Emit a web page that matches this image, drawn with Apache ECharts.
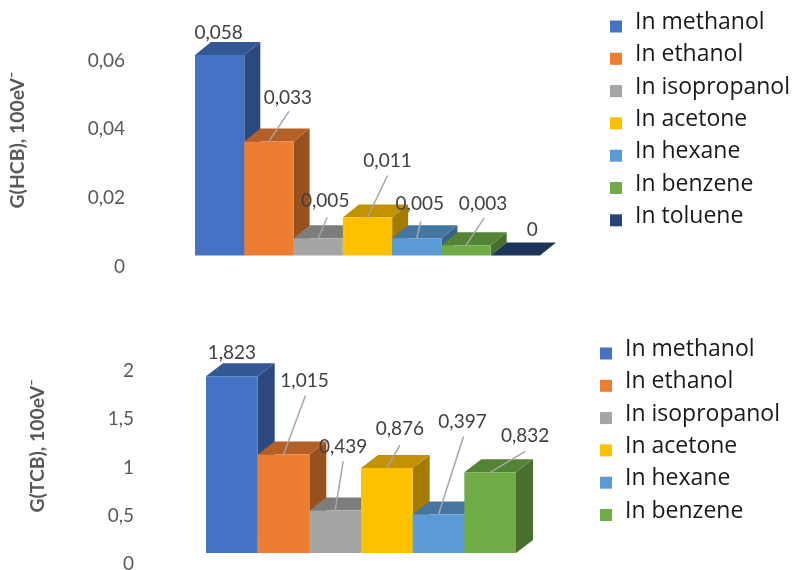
<!DOCTYPE html>
<html>
<head>
<meta charset="utf-8">
<title>G(HCB) and G(TCB) by solvent</title>
<style>html,body{margin:0;padding:0;background:#fff}#chart{width:793px;height:570px}</style>
<script src="https://cdn.jsdelivr.net/npm/echarts@6/dist/echarts.min.js"></script>
</head>
<body>
<div id="chart"></div>
<script>
// Radiation-chemical yields per solvent, decimal comma as printed.
const solvents = ['In methanol', 'In ethanol', 'In isopropanol', 'In acetone', 'In hexane', 'In benzene', 'In toluene'];
const hcbValues = [0.058, 0.033, 0.005, 0.011, 0.005, 0.003, 0];
const tcbValues = [1.823, 1.015, 0.439, 0.876, 0.397, 0.832];
const palette = ['#4472C4', '#ED7D31', '#A5A5A5', '#FFC000', '#5B9BD5', '#70AD47', '#264478'];

// Label and leader-line placement relative to the centre of a bar's front top edge.
const hcbLabelOffsets = [[-1, -22], [19, -44], [7, -37], [20, -57], [3, -34], [17, -41], [17, -26]];
const hcbLeaderEnds = [null, [20, -30], [9, -21], [20, -42], [4, -17], [18, -27], null];
const tcbLabelOffsets = [[0, -23], [21, -74], [8, -64], [13, -39], [24, -93], [35, -36]];
const tcbLeaderEnds = [null, [22, -59], [8, -49], [13, -23], [25, -78], [35, -21]];

function shade(hex, k) {
  const n = parseInt(hex.slice(1), 16);
  const c = [n >> 16, (n >> 8) & 255, n & 255].map(v => Math.round(v * k));
  return `rgb(${c.join(',')})`;
}

// One extruded column: front, top and side faces plus its data label.
function columnRenderer(color, text, labelOffset, leaderEnd, depth) {
  return function (params, api) {
    const [x, top] = api.coord([api.value(0), api.value(1)]);
    const [, base] = api.coord([api.value(0), 0]);
    const w = api.size([1, 0])[0];
    const l = x - w / 2, r = x + w / 2;
    const [dx, dy] = depth;
    const children = [
      { type: 'polygon', z2: 1, shape: { points: [[r, base], [r + dx, base - dy], [r + dx, top - dy], [r, top]] }, style: { fill: shade(color, 0.64) } },
      { type: 'polygon', z2: 1, shape: { points: [[l, top], [l + dx, top - dy], [r + dx, top - dy], [r, top]] }, style: { fill: shade(color, 0.76) } },
      { type: 'rect', z2: 2, shape: { x: l, y: top, width: w, height: base - top }, style: { fill: color } }
    ];
    if (leaderEnd) {
      children.push({ type: 'line', z2: 3, shape: { x1: x, y1: top, x2: x + leaderEnd[0], y2: top + leaderEnd[1] }, style: { stroke: '#a6a6a6', lineWidth: 1.5 } });
    }
    children.push({
      type: 'text', z2: 4, x: x + labelOffset[0], y: top + labelOffset[1],
      style: { text, fill: '#404040', font: '19px Lato', align: 'center', verticalAlign: 'middle' }
    });
    return { type: 'group', children };
  };
}

const fmt = v => String(v).replace('.', ',');

function columnSeries(values, axisIndex, labelOffsets, leaderEnds, depth) {
  return values.map((v, i) => ({
    type: 'custom',
    name: solvents[i],
    xAxisIndex: axisIndex,
    yAxisIndex: axisIndex,
    coordinateSystem: 'cartesian2d',
    itemStyle: { color: palette[i] },
    encode: { x: 0, y: 1 },
    data: [[i, v]],
    renderItem: columnRenderer(palette[i], fmt(v), labelOffsets[i], leaderEnds[i], depth)
  }));
}

const hiddenX = (gridIndex, data) => ({ type: 'category', gridIndex, data, show: false });
const hiddenY = (gridIndex, max, interval) => ({ type: 'value', gridIndex, min: 0, max, interval, show: false });
const tickY = (gridIndex, max, interval) => ({
  type: 'value', gridIndex, min: 0, max, interval,
  axisLine: { show: false }, axisTick: { show: false }, splitLine: { show: false },
  axisLabel: { margin: 8, color: '#595959', fontFamily: 'Lato', fontSize: 19, formatter: fmt }
});
// A blank second line lifts each legend name above the centre of its swatch.
const legendBlock = (data, left, top) => ({
  orient: 'vertical', left, top, height: 240, data, selectedMode: false, icon: 'rect',
  itemWidth: 12, itemHeight: 12, itemGap: 0.8,
  formatter: name => `{name|${name}}\n{gap| }`,
  textStyle: {
    padding: [0, 0, 0, 8],
    rich: {
      name: { fontFamily: 'Open Sans', fontSize: 23, color: '#1a1a1a', lineHeight: 24 },
      gap: { fontSize: 4, lineHeight: 8, height: 8 }
    }
  }
});
const axisTitle = (text, x, y) => ({
  type: 'text', x, y, rotation: Math.PI / 2,
  style: { text, fill: '#595959', font: 'bold 19.4px Lato', align: 'center', verticalAlign: 'middle' }
});

const plot = (left, width, top, height) => ({ left, width, top, height, outerBoundsMode: 'none' });

const option = {
  animation: false,
  backgroundColor: '#fff',
  grid: [
    plot(133, 400, 60.5, 206),
    plot(195, 345, 48.1, 207.4),
    plot(142, 380, 371, 193),
    plot(206, 310, 359, 194)
  ],
  xAxis: [hiddenX(0, solvents), hiddenX(1, solvents), hiddenX(2, solvents.slice(0, 6)), hiddenX(3, solvents.slice(0, 6))],
  yAxis: [tickY(0, 0.06, 0.02), hiddenY(1, 0.06, 0.02), tickY(2, 2, 0.5), hiddenY(3, 2, 0.5)],
  legend: [
    legendBlock(solvents, 605, 6),
    legendBlock(solvents.slice(0, 6), 595, 333)
  ],
  graphic: [
    axisTitle('G(HCB), 100eV\u207B', 18, 140),
    axisTitle('G(TCB), 100eV\u207B', 38, 446)
  ],
  series: [
    ...columnSeries(hcbValues, 1, hcbLabelOffsets, hcbLeaderEnds, [16, 13]),
    ...columnSeries(tcbValues, 3, tcbLabelOffsets, tcbLeaderEnds, [17, 13])
  ]
};

echarts.init(document.getElementById('chart'), null, { renderer: 'canvas' }).setOption(option);
</script>
</body>
</html>
